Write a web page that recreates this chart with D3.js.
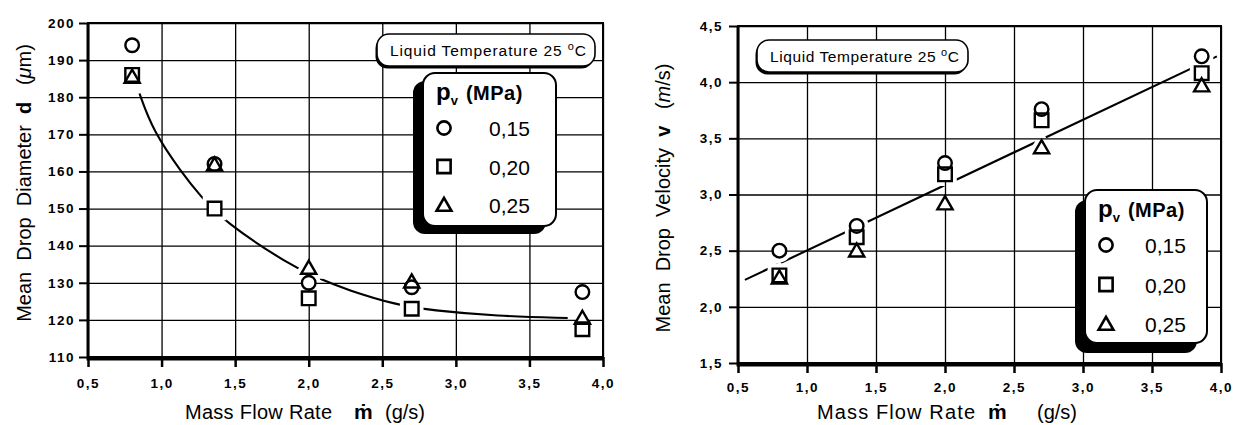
<!DOCTYPE html>
<html>
<head>
<meta charset="utf-8">
<script src="https://cdn.jsdelivr.net/npm/d3@7"></script>
<style>
  body { margin: 0; background: #fff; }
  text { font-family: "Liberation Sans", Arial, Helvetica, sans-serif; fill: #000; }
  .tick text { font-weight: bold; font-size: 13.5px; letter-spacing: 1.5px; }
  .grid line { stroke: #000; stroke-width: 1.3; }
  .grid .domain { display: none; }
</style>
</head>
<body>
<svg id="chart" width="1235" height="425"></svg>
<script>
// mass flow rate (g/s) of the five measuring points
const massFlow = [0.8, 1.36, 2.0, 2.7, 3.86];

// left: mean drop diameter (um) per pressure
const diamP015 = [194, 162, 130, 128.8, 127.5];
const diamP020 = [186, 150, 125.8, 123, 117.5];
const diamP025 = [185.5, 161.8, 134, 130.3, 120.5];

// left: fitted curve
const diamFitX = [0.85, 0.94, 1.14, 1.26, 1.42, 1.87, 2.06, 2.26, 2.6, 2.83, 3.28, 3.76];
const diamFitY = [181, 171, 159.5, 153.6, 146.6, 134.8, 131.3, 128.1, 124, 122.6, 121, 120.5];

// right: mean drop velocity (m/s) per pressure
const velP015 = [2.5, 2.72, 3.28, 3.76, 4.23];
const velP020 = [2.28, 2.62, 3.18, 3.66, 4.08];
const velP025 = [2.26, 2.5, 2.92, 3.42, 3.97];

// right: fitted straight line
const velFitX = [0.55, 3.97];
const velFitY = [2.24, 4.23];

const xTicks = [0.5, 1.0, 1.5, 2.0, 2.5, 3.0, 3.5, 4.0];
const diamTicks = [110, 120, 130, 140, 150, 160, 170, 180, 190, 200];
const velTicks = [1.5, 2.0, 2.5, 3.0, 3.5, 4.0, 4.5];

const pressures = ['0,15', '0,20', '0,25'];
const shapes = [d3.symbolCircle, d3.symbolSquare, d3.symbolTriangle];
const shapeSize = [145, 185, 100];

const svg = d3.select('#chart');
const comma1 = v => d3.format('.1f')(v).replace('.', ',');

function drawPanel(p)
{
  const x = d3.scaleLinear().domain([0.5, 4.0]).range([p.left, p.right]);
  const y = d3.scaleLinear().domain(p.yDomain).range([p.bottom, p.top]);
  const g = svg.append('g');

  // fit line
  const line = d3.line().x(d => x(d[0])).y(d => y(d[1])).curve(p.curve);
  g.append('path')
    .datum(p.fitX.map((v, i) => [v, p.fitY[i]]))
    .attr('d', line)
    .attr('fill', 'none')
    .attr('stroke', '#000')
    .attr('stroke-width', 2.1);

  const pts = [];
  p.series.forEach((s, si) => s.forEach((v, i) => pts.push({x: massFlow[i], y: v, s: si})));
  const sym = d => d3.symbol().type(shapes[d.s]).size(shapeSize[d.s])();
  const pos = d => 'translate(' + x(d.x) + ',' + (y(d.y) + (d.s == 2 ? 1.5 : 0)) + ')';

  // white halo to open gaps in the fit line
  g.selectAll('.halo').data(pts).enter().append('path')
    .attr('d', sym).attr('transform', pos)
    .attr('fill', '#fff').attr('stroke', '#fff').attr('stroke-width', 10);

  // grid
  g.append('g').attr('class', 'grid')
    .attr('transform', 'translate(0,' + p.bottom + ')')
    .call(d3.axisBottom(x).tickValues(xTicks).tickSize(-(p.bottom - p.top)).tickFormat(''));
  g.append('g').attr('class', 'grid')
    .attr('transform', 'translate(' + p.left + ',0)')
    .call(d3.axisLeft(y).tickValues(p.yTicks).tickSize(-(p.right - p.left)).tickFormat(''));

  // temperature box
  const tb = p.tempBox;
  g.append('rect').attr('x', tb.x - 1.5).attr('y', tb.y + 2.5).attr('width', tb.w).attr('height', tb.h)
    .attr('rx', 12).attr('fill', '#000');
  g.append('rect').attr('x', tb.x).attr('y', tb.y).attr('width', tb.w).attr('height', tb.h)
    .attr('rx', 12).attr('fill', '#fff').attr('stroke', '#000').attr('stroke-width', 1.6);
  const tt = g.append('text').attr('x', tb.x + 13).attr('y', tb.y + tb.h / 2 + 6)
    .attr('font-size', 15.5)
    .attr('textLength', tb.w - 22).attr('lengthAdjust', 'spacing');
  tt.append('tspan').text('Liquid Temperature 25 ');
  tt.append('tspan').attr('font-size', 11).attr('dy', -6).text('o');
  tt.append('tspan').attr('dy', 6).text('C');

  // legend
  const lg = p.legend;
  const lgG = g.append('g').attr('transform', 'translate(' + lg.x + ',' + lg.y + ')');
  lgG.append('rect').attr('x', lg.sx).attr('y', lg.sy).attr('width', lg.w).attr('height', lg.h)
    .attr('rx', 12).attr('fill', '#000');
  lgG.append('rect').attr('width', lg.w).attr('height', lg.h)
    .attr('rx', 12).attr('fill', '#fff').attr('stroke', '#000').attr('stroke-width', 2);
  const head = lgG.append('text').attr('x', 13).attr('y', 27).attr('font-weight', 'bold');
  head.append('tspan').attr('font-size', 24).text('p');
  head.append('tspan').attr('font-size', 13).attr('dy', 5).text('v');
  head.append('tspan').attr('font-size', 20).attr('dy', -5).attr('dx', 8).attr('letter-spacing', 0.5).text('(MPa)');
  pressures.forEach((lab, i) => {
    const cy = 55 + i * lg.step;
    lgG.append('path')
      .attr('d', d3.symbol().type(shapes[i]).size(shapeSize[i] * 0.95)())
      .attr('transform', 'translate(21,' + (cy + (i == 2 ? 1.5 : 0)) + ')')
      .attr('fill', 'none').attr('stroke', '#000').attr('stroke-width', 2.6);
    lgG.append('text').attr('x', lg.tx).attr('y', cy + 8).attr('font-size', 21).text(lab);
  });

  // markers
  g.selectAll('.fillm').data(pts).enter().append('path')
    .attr('d', sym).attr('transform', pos).attr('fill', '#fff');
  g.selectAll('.mark').data(pts).enter().append('path')
    .attr('d', sym).attr('transform', pos)
    .attr('fill', 'none').attr('stroke', '#000').attr('stroke-width', 2.4);

  // frame
  g.append('rect').attr('x', p.left).attr('y', p.top)
    .attr('width', p.right - p.left).attr('height', p.bottom - p.top)
    .attr('fill', 'none').attr('stroke', '#000').attr('stroke-width', 2);
  g.append('path')
    .attr('d', 'M' + p.left + ',' + p.top + 'V' + (p.bottom + 2) + 'H' + p.right)
    .attr('fill', 'none').attr('stroke', '#000').attr('stroke-width', 3);

  // axes
  const ax = g.append('g').attr('transform', 'translate(0,' + p.bottom + ')')
    .call(d3.axisBottom(x).tickValues(xTicks).tickSize(10).tickPadding(p.xPad).tickFormat(comma1));
  ax.select('.domain').remove();
  ax.selectAll('line').attr('stroke-width', 2.5);

  const ay = g.append('g').attr('transform', 'translate(' + p.left + ',0)')
    .call(d3.axisLeft(y).tickValues(p.yTicks).tickSize(9).tickPadding(p.yPad).tickFormat(p.yFormat));
  ay.select('.domain').remove();
  ay.selectAll('line').attr('stroke-width', 2);

  // y title
  const yt = g.append('text')
    .attr('transform', 'translate(' + p.yTitle.x + ',' + p.yTitle.y + ') rotate(-90)')
    .attr('text-anchor', 'middle').attr('font-size', 20)
    .style('white-space', 'pre');
  yt.append('tspan').text(p.yTitle.words + '  ');
  yt.append('tspan').attr('font-weight', 'bold').text(p.yTitle.sym);
  yt.append('tspan').text('   (');
  yt.append('tspan').attr('font-style', 'italic').text(p.yTitle.unit[0]);
  yt.append('tspan').text(p.yTitle.unit.slice(1) + ')');

  // x title
  const xt = p.xTitle;
  g.append('text').attr('x', xt.x0).attr('y', 419).attr('font-size', 20)
    .attr('textLength', xt.len).attr('lengthAdjust', 'spacing')
    .text('Mass Flow Rate');
  g.append('text').attr('x', xt.x1).attr('y', 419).attr('font-size', 21).attr('font-weight', 'bold')
    .text('\u1E41');
  g.append('text').attr('x', xt.x2).attr('y', 419).attr('font-size', 20).text('(g/s)');
}

drawPanel({
  left: 88, right: 603, top: 23, bottom: 357,
  yDomain: [110, 200], yTicks: diamTicks, yFormat: d3.format('d'),
  series: [diamP015, diamP020, diamP025],
  fitX: diamFitX, fitY: diamFitY, curve: d3.curveBasis,
  tempBox: {x: 377, y: 34, w: 218, h: 32},
  legend: {x: 423, y: 73, w: 133, h: 153, sx: -10, sy: 8, step: 38.5, tx: 66},
  xPad: 11, yPad: 4,
  yTitle: {x: 31, y: 183, words: 'Mean  Drop  Diameter', sym: 'd', unit: '\u03BCm'},
  xTitle: {x0: 185, len: 147, x1: 354, x2: 385}
});

drawPanel({
  left: 738, right: 1221, top: 26, bottom: 363,
  yDomain: [1.5, 4.5], yTicks: velTicks, yFormat: comma1,
  series: [velP015, velP020, velP025],
  fitX: velFitX, fitY: velFitY, curve: d3.curveLinear,
  tempBox: {x: 757, y: 40, w: 211, h: 32},
  legend: {x: 1085, y: 190, w: 122, h: 153, sx: -10, sy: 10, step: 39.5, tx: 60},
  xPad: 9, yPad: 6,
  yTitle: {x: 670, y: 198, words: 'Mean  Drop  Velocity', sym: 'v', unit: 'm/s'},
  xTitle: {x0: 817, len: 158, x1: 988, x2: 1037}
});
</script>
</body>
</html>
